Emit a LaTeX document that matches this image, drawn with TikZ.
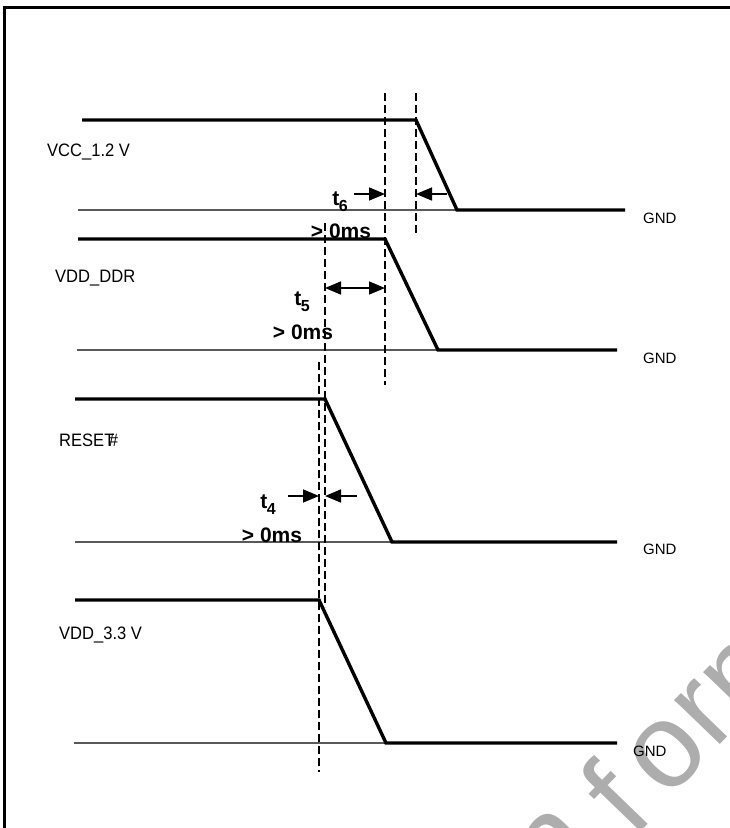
\documentclass[tikz,border=0pt]{standalone}
\usepackage{fontspec}
\setmainfont{Liberation Sans}
\usetikzlibrary{arrows.meta}
\newcommand{\narrowtxt}[1]{\scalebox{0.92}[1]{#1}}
\begin{document}
\begin{tikzpicture}[x=1pt,y=-1pt,
  sig/.style={line width=3.4pt, line join=miter},
  gndline/.style={line width=1.2pt, draw=black!65},
  dline/.style={line width=2pt, dash pattern=on 8pt off 4pt},
  lbl/.style={font=\fontsize{18}{20}\selectfont, inner sep=0pt, anchor=west},
  gndlbl/.style={font=\fontsize{15}{17}\selectfont, inner sep=0pt, anchor=west},
  tlbl/.style={font=\bfseries\fontsize{21}{23}\selectfont, inner sep=0pt},
  tarrow/.style={-{Triangle[length=16pt,width=13pt]}, line width=1.6pt},
  tdarrow/.style={{Triangle[length=16pt,width=13pt]}-{Triangle[length=16pt,width=13pt]}, line width=1.6pt},
  wm/.style={font=\fontsize{120}{120}\selectfont, text=black!32, inner sep=0pt, rotate=46},
  frame/.style={line width=3pt}
]
\useasboundingbox (0,0) rectangle (730,828);

% watermark
\begin{scope}
\clip (0,0) rectangle (730,828);
\node[wm] (wmn) at (553,848) {n};
\node[wm] (wmf) at (614,797) {f};
\node[wm] (wmo) at (668,754) {o};
\node[wm] (wmr) at (705,714) {r};
\node[wm] (wmm) at (755,664) {m};
\end{scope}

% frame
\coordinate (fr1) at (4,830);
\coordinate (fr2) at (4,7);
\coordinate (fr3) at (732,7);
\draw[frame] (fr1) -- (fr2) -- (fr3);

% VCC_1.2V
\coordinate (a0) at (82,120);
\coordinate (a1) at (416,120);
\coordinate (a2) at (457,210);
\coordinate (a3) at (625,210);
\coordinate (ag) at (78,210);
\draw[gndline] (ag) -- (a2);
\draw[sig] (a0) -- (a1) -- (a2) -- (a3);
\node[lbl] (vcc) at (47,152) {\narrowtxt{VCC\_1.2 V}};
\node[gndlbl] (g1) at (643,218) {GND};

% VDD_DDR
\coordinate (b0) at (78,239);
\coordinate (b1) at (385,239);
\coordinate (b2) at (438,350);
\coordinate (b3) at (617,350);
\coordinate (bg) at (77,350);
\draw[gndline] (bg) -- (b2);
\draw[sig] (b0) -- (b1) -- (b2) -- (b3);
\node[lbl] (vddr) at (55,278) {\narrowtxt{VDD\_DDR}};
\node[gndlbl] (g2) at (643,358) {GND};

% RESET#
\coordinate (c0) at (75,399);
\coordinate (c1) at (325,399);
\coordinate (c2) at (392,542);
\coordinate (c3) at (617,542);
\coordinate (cg) at (75,542);
\draw[gndline] (cg) -- (c2);
\draw[sig] (c0) -- (c1) -- (c2) -- (c3);
\node[lbl] (rst) at (59,440) {\narrowtxt{RESET\kern-6pt\#}};
\node[gndlbl] (g3) at (643,549) {GND};

% VDD_3.3V
\coordinate (e0) at (75,600);
\coordinate (e1) at (319,600);
\coordinate (e2) at (386,743);
\coordinate (e3) at (617,743);
\coordinate (eg) at (74,743);
\draw[gndline] (eg) -- (e2);
\draw[sig] (e0) -- (e1) -- (e2) -- (e3);
\node[lbl] (v33) at (59,635) {\narrowtxt{VDD\_3.3 V}};
\node[gndlbl] (g4) at (633,751) {GND};

% dashed markers
\coordinate (d1t) at (385,93);  \coordinate (d1b) at (385,385);
\coordinate (d2t) at (416,93);  \coordinate (d2b) at (416,235);
\coordinate (d3t) at (325,223); \coordinate (d3b) at (325,607);
\coordinate (d4t) at (319,362); \coordinate (d4b) at (319,772);
\draw[dline] (d1t) -- (d1b);
\draw[dline] (d2t) -- (d2b);
\draw[dline] (d3t) -- (d3b);
\draw[dline] (d4t) -- (d4b);

% t6
\coordinate (t6a) at (354,194); \coordinate (t6b) at (385,194);
\coordinate (t6c) at (447,194); \coordinate (t6d) at (416,194);
\draw[tarrow] (t6a) -- (t6b);
\draw[tarrow] (t6c) -- (t6d);
\node[tlbl] (t6) at (340,202) {t\kern-0.5pt\raisebox{-6pt}{\fontsize{16}{16}\selectfont 6}};
\node[tlbl] (t6v) at (341,231) {> 0ms};

% t5
\coordinate (t5a) at (325,288); \coordinate (t5b) at (385,288);
\draw[tdarrow] (t5a) -- (t5b);
\node[tlbl] (t5) at (302,302) {t\kern-0.5pt\raisebox{-6pt}{\fontsize{16}{16}\selectfont 5}};
\node[tlbl] (t5v) at (303,332) {> 0ms};

% t4
\coordinate (t4a) at (288,496); \coordinate (t4b) at (319,496);
\coordinate (t4c) at (357,496); \coordinate (t4d) at (325,496);
\draw[tarrow] (t4a) -- (t4b);
\draw[tarrow] (t4c) -- (t4d);
\node[tlbl] (t4) at (268,505) {t\kern-0.5pt\raisebox{-6pt}{\fontsize{16}{16}\selectfont 4}};
\node[tlbl] (t4v) at (272,535) {> 0ms};
\end{tikzpicture}
\end{document}
